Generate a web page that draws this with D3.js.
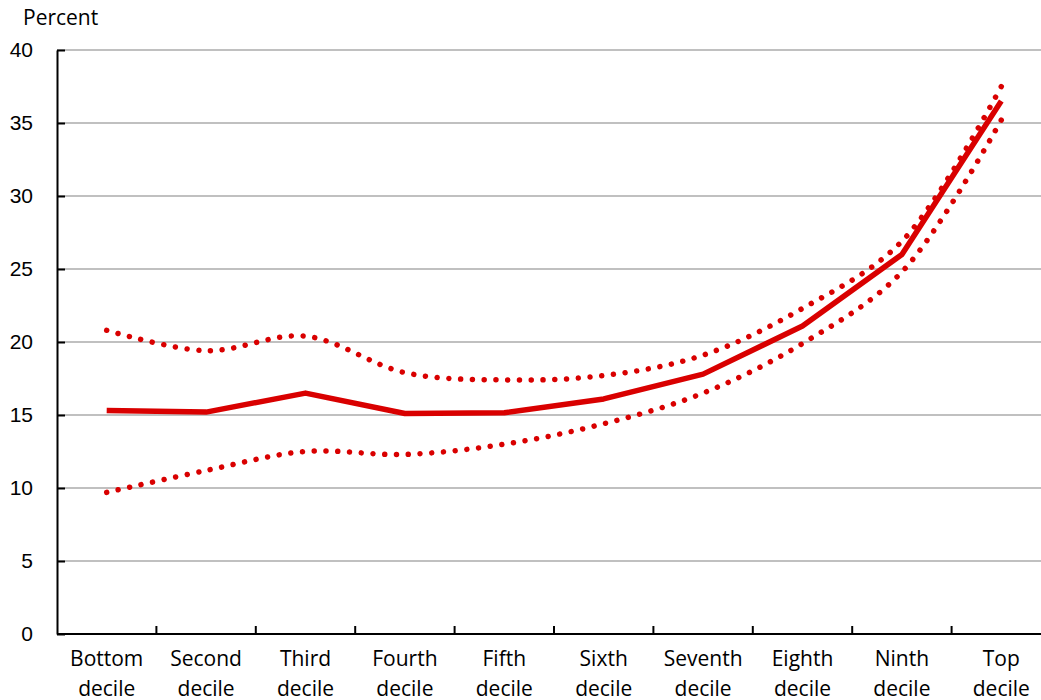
<!DOCTYPE html>
<html>
<head>
<meta charset="utf-8">
<script src="https://cdn.jsdelivr.net/npm/d3@7"></script>
<style>
  html, body { margin: 0; padding: 0; background: #fff; overflow: hidden; }
  svg { display: block; font-family: "Open Sans", "Liberation Sans", sans-serif; }
</style>
</head>
<body>
<svg id="chart" width="1041" height="700"></svg>
<script>
// Income deciles along the x axis
const categories = ["Bottom decile", "Second decile", "Third decile", "Fourth decile", "Fifth decile",
  "Sixth decile", "Seventh decile", "Eighth decile", "Ninth decile", "Top decile"];

// Central estimate (percent)
const estimate = [15.3, 15.2, 16.5, 15.1, 15.15, 16.1, 17.8, 21.1, 26.0, 36.5];
// Upper and lower bounds of the band (percent)
const upperBound = [20.8, 19.4, 20.4, 17.9, 17.4, 17.7, 19.1, 22.3, 26.9, 37.5];
const lowerBound = [9.7, 11.2, 12.5, 12.3, 13.0, 14.4, 16.5, 19.9, 24.8, 35.2];

const yTicks = [0, 5, 10, 15, 20, 25, 30, 35, 40];

const svg = d3.select("#chart");
const margin = { left: 57, top: 50, bottom: 66 };
const plotW = 994;
const plotH = 700 - margin.top - margin.bottom;
const red = "#d90000";

const x = d3.scaleBand().domain(categories).range([margin.left, margin.left + plotW]);
const y = d3.scaleLinear().domain([0, 40]).range([margin.top + plotH, margin.top]);
const cx = d => x(d) + x.bandwidth() / 2;

// Horizontal gridlines
svg.append("g")
  .selectAll("line")
  .data(yTicks.filter(t => t > 0))
  .join("line")
  .attr("x1", margin.left).attr("x2", margin.left + plotW)
  .attr("y1", d => y(d)).attr("y2", d => y(d))
  .attr("stroke", "#c0c0c0").attr("stroke-width", 2);

// Y axis with inward ticks
const yAxis = svg.append("g")
  .attr("transform", `translate(${margin.left},0)`)
  .call(d3.axisLeft(y).tickValues(yTicks).tickSizeInner(-8).tickSizeOuter(0));
yAxis.select(".domain").attr("stroke", "#000").attr("stroke-width", 2);
yAxis.selectAll(".tick line").attr("stroke", "#000").attr("stroke-width", 2);
yAxis.selectAll(".tick text")
  .attr("fill", "#000").attr("font-size", 21).attr("text-anchor", "end").attr("x", -24);

// X axis with inward ticks between categories
const xAxisY = margin.top + plotH;
svg.append("line")
  .attr("x1", margin.left).attr("x2", margin.left + plotW)
  .attr("y1", xAxisY).attr("y2", xAxisY)
  .attr("stroke", "#000").attr("stroke-width", 2);
svg.append("g")
  .selectAll("line")
  .data(categories.slice(1))
  .join("line")
  .attr("x1", d => x(d)).attr("x2", d => x(d))
  .attr("y1", xAxisY).attr("y2", xAxisY - 8)
  .attr("stroke", "#000").attr("stroke-width", 2);

// Two-line category labels
const labels = svg.append("g")
  .selectAll("text")
  .data(categories)
  .join("text")
  .attr("x", d => cx(d))
  .attr("y", xAxisY + 32)
  .attr("text-anchor", "middle")
  .attr("font-size", 21)
  .attr("fill", "#000");
labels.each(function(d) {
  const parts = d.split(" ");
  const t = d3.select(this);
  parts.forEach((p, i) => {
    t.append("tspan").attr("x", cx(d)).attr("dy", i === 0 ? 0 : 30).text(p);
  });
});

// Axis title
svg.append("text")
  .attr("x", 23).attr("y", 25)
  .attr("font-size", 21).attr("fill", "#000")
  .text("Percent");

// Bound lines: smooth dotted curves, spacing tuned so both ends carry a dot
const smoothLine = d3.line()
  .x((d, i) => cx(categories[i]))
  .y(d => y(d))
  .curve(d3.curveCatmullRom.alpha(0.5));

[upperBound, lowerBound].forEach(series => {
  const p = svg.append("path")
    .datum(series)
    .attr("d", smoothLine)
    .attr("fill", "none")
    .attr("stroke", red)
    .attr("stroke-width", 5.5)
    .attr("stroke-linecap", "round");
  const len = p.node().getTotalLength();
  const n = Math.round(len / 11.8);
  const gap = (len - 0.5) / n;
  p.attr("stroke-dasharray", `0.01 ${gap - 0.01}`);
});

// Central estimate: solid line
const straightLine = d3.line()
  .x((d, i) => cx(categories[i]))
  .y(d => y(d));
svg.append("path")
  .datum(estimate)
  .attr("d", straightLine)
  .attr("fill", "none")
  .attr("stroke", red)
  .attr("stroke-width", 5.5)
  .attr("stroke-linejoin", "round");
</script>
</body>
</html>
